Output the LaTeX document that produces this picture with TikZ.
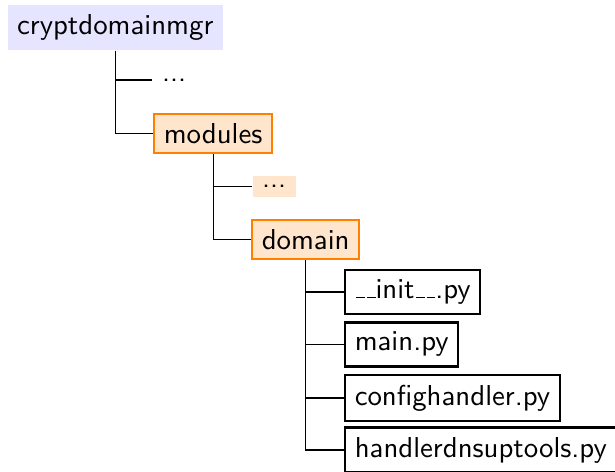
\documentclass[tikz,border=0pt]{standalone}
\usepackage{tikz}
\usetikzlibrary{positioning}
\newcommand{\shortus}{\leavevmode\kern.06em\vbox{\hrule width.3em}}

\begin{document}
\begin{tikzpicture}[font=\sffamily,
    rootdir/.style={fill=blue!10, anchor=west},
    subdir/.style={draw=orange, thick, fill=orange!20, anchor=west},
    hidden/.style={fill=orange!20, anchor=west},
    pyfile/.style={draw, thick, anchor=west}]
\useasboundingbox (0,0) rectangle (7.5,5.756);

% top level
\node[rootdir] (root) at (0.085,5.42) {cryptdomainmgr};
\node[anchor=west] (dotsA) at (1.854,4.78) {...};
\node[subdir] (modules) at (1.866,4.128) {modules};

% inside modules
\node[hidden] (dotsB) at (3.073,3.482) {...};
\node[subdir] (domain) at (3.061,2.835) {domain};

% inside domain
\node[pyfile] (init) at (4.195,2.195) {\shortus\shortus init\shortus\shortus.py};
\node[pyfile] (mainpy) at (4.195,1.555) {main.py};
\node[pyfile] (config) at (4.195,0.902) {confighandler.py};
\node[pyfile] (handler) at (4.195,0.268) {handlerdnsuptools.py};

% tree lines
\draw (root.south) |- (dotsA.west);
\draw (root.south) |- (modules.west);
\draw (modules.south) |- (dotsB.west);
\draw (modules.south) |- (domain.west);
\foreach \f in {init, mainpy, config, handler}
    \draw (domain.south) |- (\f.west);
\end{tikzpicture}
\end{document}
